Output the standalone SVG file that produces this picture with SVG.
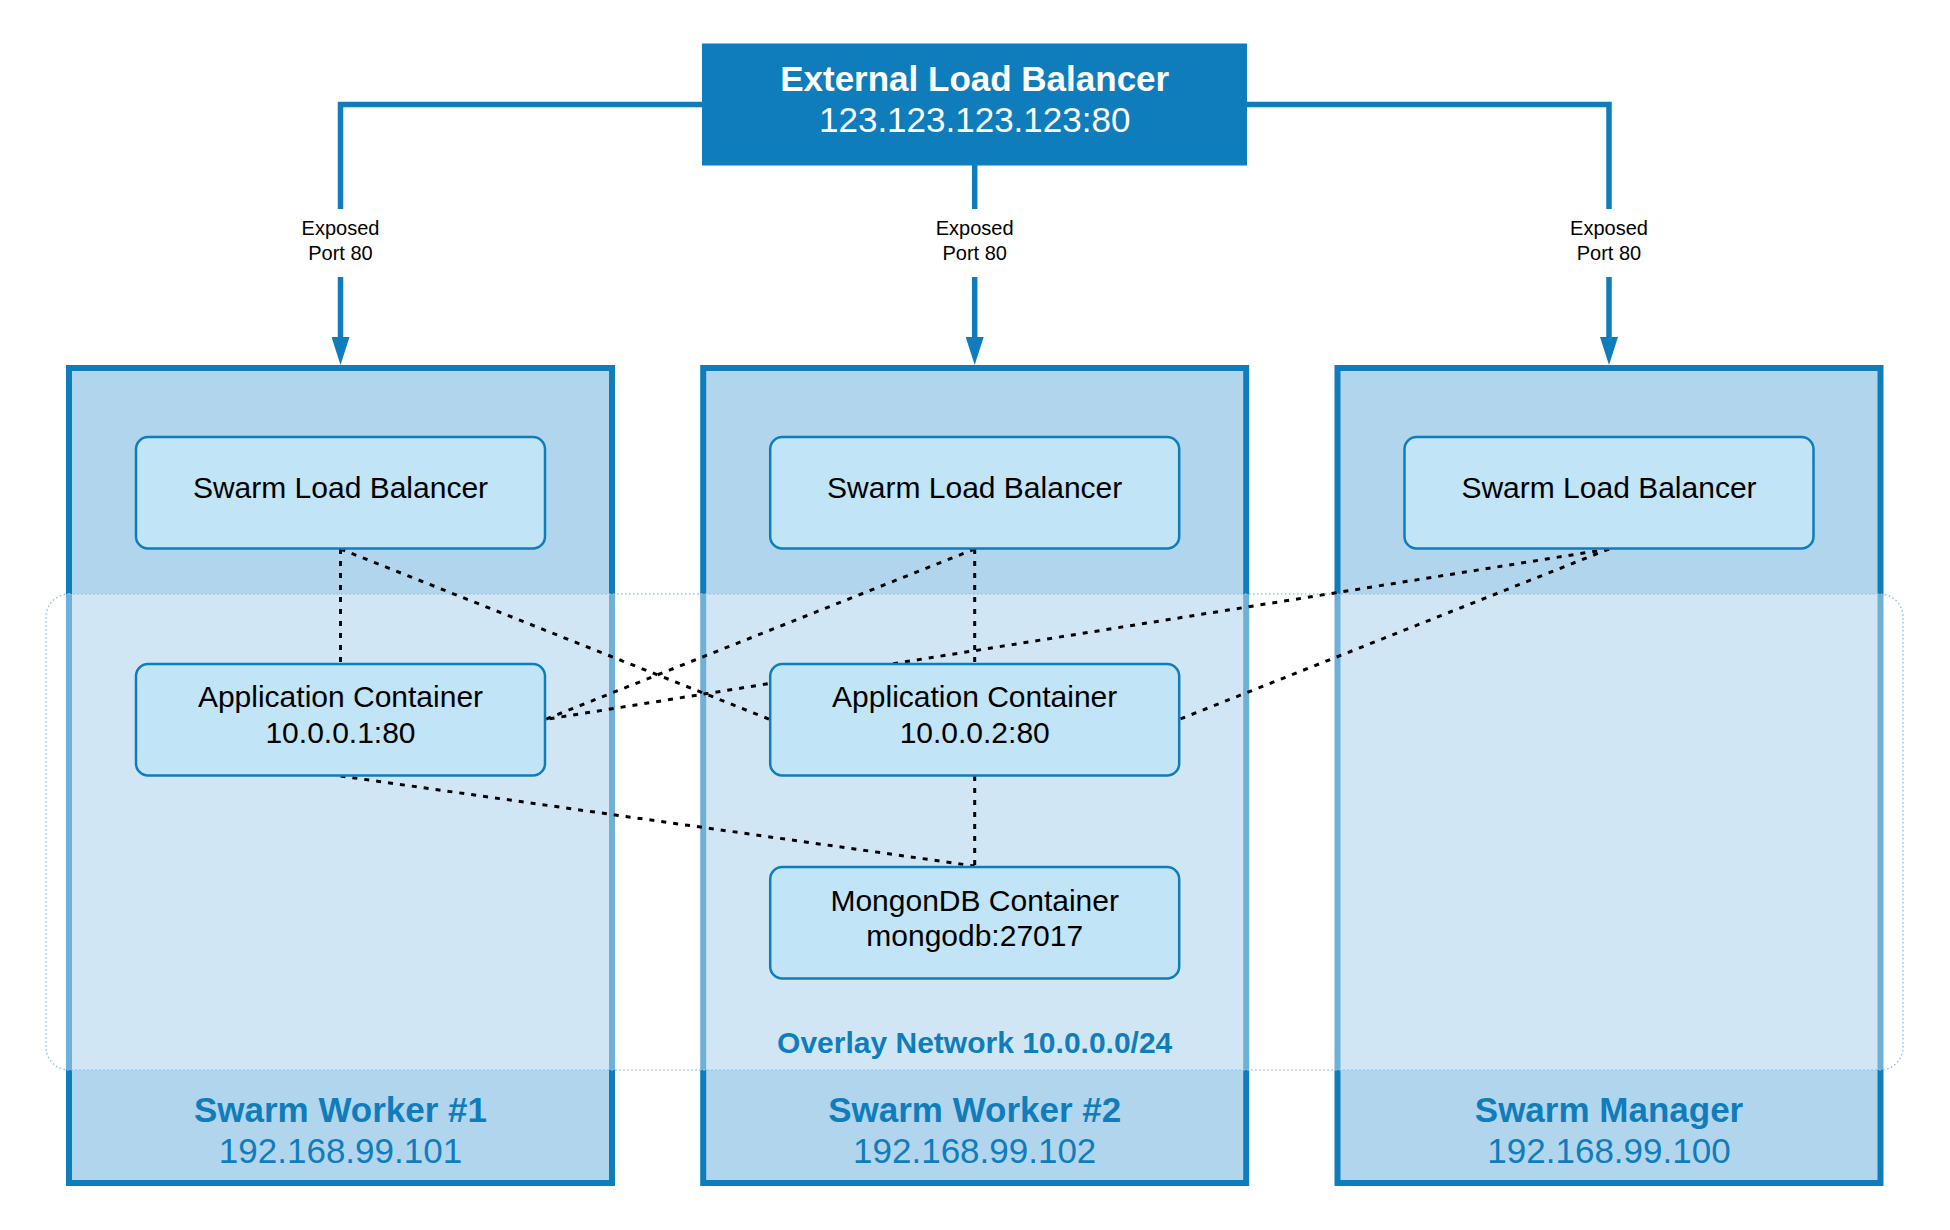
<svg xmlns="http://www.w3.org/2000/svg" width="1950" height="1230" viewBox="0 0 1950 1230">
<defs>
<style>
text{font-family:"Liberation Sans",Arial,sans-serif;text-anchor:middle}
.host{fill:#b2d5ee;stroke:#0f7dbb;stroke-width:6}
.node{fill:#c1e4f7;stroke:#0f7dbb;stroke-width:2.5}
.ntext{font-size:30px;fill:#000}
.htitle{font-size:35px;font-weight:bold;fill:#0f7dbb}
.hip{font-size:35px;fill:#0f7dbb}
.elink{fill:none;stroke:#0f7dbb;stroke-width:5.5}
.dot{fill:none;stroke:#000;stroke-width:3;stroke-dasharray:5 7}
.lbl{font-size:20px;fill:#000}
</style>
<marker id="arr" markerWidth="28" markerHeight="18" refX="0" refY="9" orient="auto" markerUnits="userSpaceOnUse" viewBox="0 0 28 18">
<path d="M0,0 L28,9 L0,18 Z" fill="#0f7dbb"/>
</marker>
</defs>
<rect width="1950" height="1230" fill="#fff"/>

<g id="host-worker1">
<rect class="host" x="69" y="368" width="543" height="815"/>
</g>
<g id="host-worker2">
<rect class="host" x="703.2" y="368" width="543" height="815"/>
</g>
<g id="host-manager">
<rect class="host" x="1337.5" y="368" width="543" height="815"/>
</g>

<g id="overlay-network">
<rect x="46" y="594" width="1857" height="476" rx="23" ry="23" fill="#fff" fill-opacity="0.4" stroke="#8cc6ea" stroke-width="1.5" stroke-dasharray="1.5 2.5"/>
<text x="974.7" y="1052.7" style="font-size:30px;font-weight:bold;fill:#0f7dbb">Overlay Network 10.0.0.0/24</text>
</g>

<g id="host-labels">
<text class="htitle" x="340.5" y="1121.7">Swarm Worker #1</text>
<text class="hip" x="340.5" y="1163.3">192.168.99.101</text>
<text class="htitle" x="974.7" y="1121.7">Swarm Worker #2</text>
<text class="hip" x="974.7" y="1163.3">192.168.99.102</text>
<text class="htitle" x="1609" y="1121.7">Swarm Manager</text>
<text class="hip" x="1609" y="1163.3">192.168.99.100</text>
</g>

<g id="connectors">
<path class="elink" d="M702,104.5 H340.5 V209"/>
<path class="elink" d="M340.5,277 V337" marker-end="url(#arr)"/>
<path class="elink" d="M974.7,165 V209"/>
<path class="elink" d="M974.7,277 V337" marker-end="url(#arr)"/>
<path class="elink" d="M1247,104.5 H1609 V209"/>
<path class="elink" d="M1609,277 V337" marker-end="url(#arr)"/>
<text class="lbl" x="340.5" y="235">Exposed</text>
<text class="lbl" x="340.5" y="260">Port 80</text>
<text class="lbl" x="974.7" y="235">Exposed</text>
<text class="lbl" x="974.7" y="260">Port 80</text>
<text class="lbl" x="1609" y="235">Exposed</text>
<text class="lbl" x="1609" y="260">Port 80</text>

<line class="dot" x1="340.5" y1="549" x2="340.5" y2="664"/>
<line class="dot" x1="340.5" y1="549" x2="770" y2="719.5"/>
<line class="dot" x1="974.7" y1="549" x2="545" y2="719.5"/>
<line class="dot" x1="974.7" y1="549" x2="974.7" y2="664"/>
<line class="dot" x1="1609" y1="549" x2="545" y2="719.5"/>
<line class="dot" x1="1609" y1="549" x2="1179" y2="719.5"/>
<line class="dot" x1="340.5" y1="776" x2="974.7" y2="866"/>
<line class="dot" x1="974.7" y1="776" x2="974.7" y2="866"/>
</g>

<g id="external-lb">
<rect x="702" y="43.5" width="545" height="122" fill="#0f7dbb"/>
<text x="974.7" y="90.7" style="font-size:35px;font-weight:bold;fill:#fff">External Load Balancer</text>
<text x="974.7" y="131.7" style="font-size:35px;fill:#fff">123.123.123.123:80</text>
</g>

<g id="slb1">
<rect class="node" x="136" y="437" width="409" height="111.5" rx="12"/>
<text class="ntext" x="340.5" y="498">Swarm Load Balancer</text>
</g>
<g id="slb2">
<rect class="node" x="770.2" y="437" width="409" height="111.5" rx="12"/>
<text class="ntext" x="974.7" y="498">Swarm Load Balancer</text>
</g>
<g id="slb3">
<rect class="node" x="1404.5" y="437" width="409" height="111.5" rx="12"/>
<text class="ntext" x="1609" y="498">Swarm Load Balancer</text>
</g>

<g id="app1">
<rect class="node" x="136" y="664" width="409" height="111.5" rx="12"/>
<text class="ntext" x="340.5" y="706.7">Application Container</text>
<text class="ntext" x="340.5" y="742.7">10.0.0.1:80</text>
</g>
<g id="app2">
<rect class="node" x="770.2" y="664" width="409" height="111.5" rx="12"/>
<text class="ntext" x="974.7" y="706.7">Application Container</text>
<text class="ntext" x="974.7" y="742.7">10.0.0.2:80</text>
</g>
<g id="mongo">
<rect class="node" x="770.2" y="867" width="409" height="111.5" rx="12"/>
<text class="ntext" x="974.7" y="910.7">MongonDB Container</text>
<text class="ntext" x="974.7" y="946">mongodb:27017</text>
</g>
</svg>
